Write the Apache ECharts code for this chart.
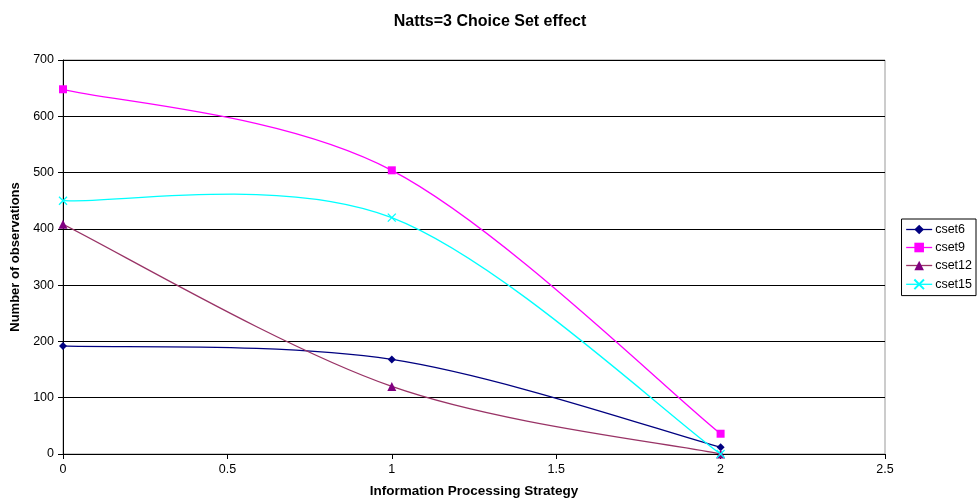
<!DOCTYPE html>
<html>
<head>
<meta charset="utf-8">
<script src="https://cdn.jsdelivr.net/npm/echarts@6/dist/echarts.min.js"></script>
<style>html,body{margin:0;padding:0;background:#fff;overflow:hidden;}#c{width:980px;height:499px;}</style>
</head>
<body>
<div id="c"></div>
<script>
const xValues = [0, 1, 2];
const cset6 = [192, 168, 12];
const cset9 = [648, 504, 36];
const cset12 = [408, 120, 0];
const cset15 = [450, 420, 0];
const seriesNames = ['cset6', 'cset9', 'cset12', 'cset15'];
const yTicks = [0, 100, 200, 300, 400, 500, 600, 700];
const xTicks = [0, 0.5, 1, 1.5, 2, 2.5];

const FONT = '"Liberation Sans", Arial, sans-serif';
const xPath = 'path://M0,0 L10,10 M10,0 L0,10';
const colors = {cset6: '#000080', cset9: '#FF00FF', cset12: '#993366', cset15: '#00FFFF'};
const markerColors = {cset6: '#000080', cset9: '#FF00FF', cset12: '#800080', cset15: '#00FFFF'};
const valuesByName = {cset6, cset9, cset12, cset15};
function pairs(vals){ return xValues.map((x,i)=>[x, vals[i]]); }

// Excel-like smoothed curve (Catmull-Rom / 1/6 bezier) built from the axis scales
function curveSeries(name){
  const vals = valuesByName[name];
  return {
    name: name + '_curve', type: 'custom', coordinateSystem: 'cartesian2d',
    silent: true, z: 1, clip: true,
    data: [[xValues[0], vals[0]]],
    renderItem: function(params, api){
      const p = xValues.map((x,i)=>api.coord([x, vals[i]]));
      const n = p.length;
      const children = [];
      for (let i = 0; i < n - 1; i++){
        const p0 = p[Math.max(i-1,0)], p1 = p[i], p2 = p[i+1], p3 = p[Math.min(i+2,n-1)];
        children.push({
          type: 'bezierCurve',
          shape: {
            x1: p1[0], y1: p1[1], x2: p2[0], y2: p2[1],
            cpx1: p1[0] + (p2[0]-p0[0])/6, cpy1: p1[1] + (p2[1]-p0[1])/6,
            cpx2: p2[0] - (p3[0]-p1[0])/6, cpy2: p2[1] - (p3[1]-p1[1])/6
          },
          style: {stroke: colors[name], fill: null, lineWidth: 1.3}
        });
      }
      return {type: 'group', children: children};
    }
  };
}

function markerSeries(name, symbol, size, extraItem){
  return {
    name: name, type: 'line', data: pairs(valuesByName[name]), z: 3,
    symbol: symbol, symbolSize: size, showSymbol: true,
    lineStyle: {color: colors[name], width: 1.3, opacity: 0},
    itemStyle: Object.assign({color: markerColors[name]}, extraItem || {})
  };
}

const chart = echarts.init(document.getElementById('c'));
chart.setOption({
  animation: false,
  backgroundColor: '#fff',
  title: {
    text: 'Natts=3 Choice Set effect',
    left: 'center', top: 9, itemGap: 0,
    textStyle: {fontFamily: FONT, fontSize: 16, fontWeight: 'bold', color: '#000'}
  },
  grid: {left: 63, right: 95, top: 60, bottom: 45, show: true, borderColor: '#999', borderWidth: 1,
         containLabel: false, outerBoundsMode: 'none'},
  legend: {
    orient: 'vertical', right: 4, top: 219,
    data: seriesNames.map(n => ({name: n, lineStyle: {color: colors[n], width: 1.3, opacity: 1}})),
    borderColor: '#000', borderWidth: 1, padding: [4, 4, 4, 4],
    itemGap: 5, itemWidth: 26, itemHeight: 12,
    textStyle: {fontFamily: FONT, fontSize: 12.5, color: '#000', padding: [0, 0, 0, -2]}
  },
  xAxis: {
    type: 'value', min: xTicks[0], max: xTicks[xTicks.length-1], interval: 0.5,
    name: 'Information Processing Strategy', nameLocation: 'middle', nameGap: 30,
    nameTextStyle: {fontFamily: FONT, fontSize: 13.5, fontWeight: 'bold', color: '#000'},
    axisLine: {show: true, onZero: false, lineStyle: {color: '#000'}},
    axisTick: {show: true, length: 5, lineStyle: {color: '#000'}},
    axisLabel: {fontFamily: FONT, fontSize: 12.5, color: '#000', margin: 9},
    splitLine: {show: false}
  },
  yAxis: {
    type: 'value', min: yTicks[0], max: yTicks[yTicks.length-1], interval: 100,
    name: 'Number of observations', nameLocation: 'middle', nameGap: 40,
    nameTextStyle: {fontFamily: FONT, fontSize: 13, fontWeight: 'bold', color: '#000'},
    axisLine: {show: true, lineStyle: {color: '#000'}},
    axisTick: {show: true, length: 5, lineStyle: {color: '#000'}},
    axisLabel: {fontFamily: FONT, fontSize: 12.5, color: '#000', margin: 9},
    splitLine: {show: true, lineStyle: {color: '#000', width: 1}}
  },
  series: [
    curveSeries('cset6'), curveSeries('cset9'), curveSeries('cset12'), curveSeries('cset15'),
    markerSeries('cset6', 'diamond', 8),
    markerSeries('cset9', 'rect', 8),
    markerSeries('cset12', 'triangle', 9),
    markerSeries('cset15', xPath, 8, {color: 'none', borderColor: '#00FFFF', borderWidth: 1.3})
  ]
});
</script>
</body>
</html>
